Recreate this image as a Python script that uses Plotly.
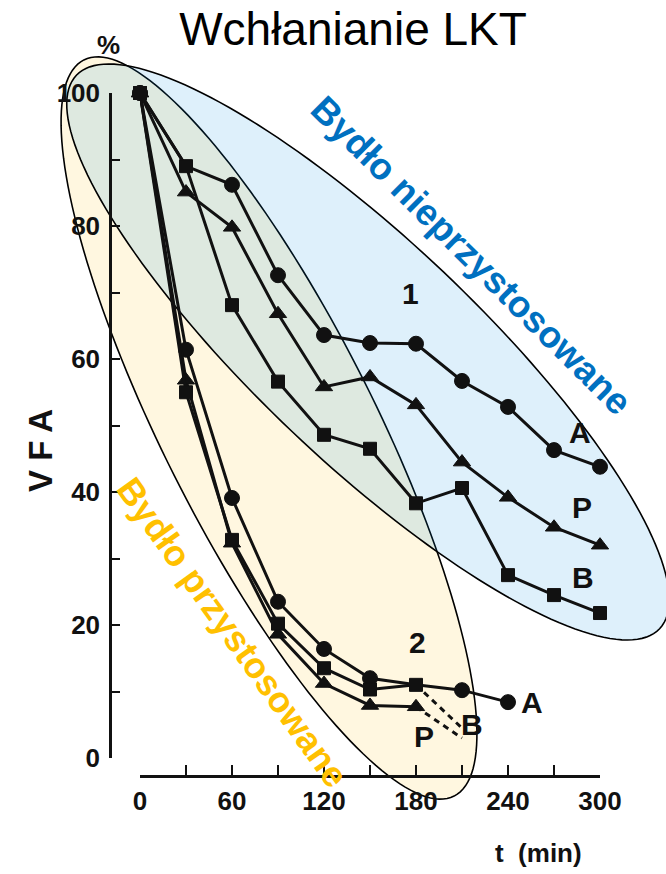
import numpy as np
import plotly.graph_objects as go

W, H = 666, 874

# ---------------- data ----------------
t1 = [0, 30, 60, 90, 120, 150, 180, 210, 240, 270, 300]
g1_A = [100, 89.0, 86.2, 72.6, 63.6, 62.4, 62.3, 56.7, 52.8, 46.3, 43.8]
g1_P = [100, 85.1, 79.8, 66.8, 55.8, 57.3, 53.1, 44.5, 39.2, 34.7, 32.0]
g1_B = [100, 89.0, 68.1, 56.6, 48.6, 46.5, 38.3, 40.6, 27.5, 24.5, 21.8]

t2_A = [0, 30, 60, 90, 120, 150, 180, 210, 240]
g2_A = [100, 61.4, 39.1, 23.5, 16.4, 12.0, 11.0, 10.2, 8.4]
t2 = [0, 30, 60, 90, 120, 150, 180]
g2_B = [100, 55.0, 32.8, 20.2, 13.5, 10.3, 11.0]
g2_P = [100, 56.8, 32.3, 18.6, 11.2, 7.9, 7.7]
t2_ext = [180, 210]
g2_B_ext = [11.0, 4.5]
g2_P_ext = [7.7, 3.0]

x_ticks = [0, 30, 60, 90, 120, 150, 180, 210, 240, 270, 300]
x_labels = ["0", "", "60", "", "120", "", "180", "", "240", "", "300"]
y_ticks = [0, 10, 20, 30, 40, 50, 60, 70, 80, 90, 100]
y_labels = ["0", "", "20", "", "40", "", "60", "", "80", "", "100"]

# ---------------- style ----------------
INK = "#111111"
SANS = "Liberation Sans, Arial, sans-serif"


def px(x):
    return x / W


def py(y):
    return 1 - y / H


def ellipse_path(cx, cy, a, b, ang_deg, n=180):
    th = np.linspace(0, 2 * np.pi, n, endpoint=False)
    phi = np.deg2rad(ang_deg)
    xs = cx + a * np.cos(th) * np.cos(phi) - b * np.sin(th) * np.sin(phi)
    ys = cy + a * np.cos(th) * np.sin(phi) + b * np.sin(th) * np.cos(phi)
    pts = [f"{px(x):.5f},{py(y):.5f}" for x, y in zip(xs, ys)]
    return "M " + " L ".join(pts) + " Z"


def sizes(n, base, hide=None):
    s = [base] * n
    if hide is not None:
        s[hide] = 0
    return s


fig = go.Figure()


def add_series(x, y, symbol, msize, hide=None, dash="solid"):
    fig.add_trace(go.Scatter(
        x=x, y=y, mode="lines+markers" if dash == "solid" else "lines",
        line=dict(color=INK, width=3, dash=dash),
        marker=dict(symbol=symbol, size=sizes(len(x), msize, hide), color=INK,
                    opacity=1, line=dict(width=1, color=INK)),
        cliponaxis=False, showlegend=False, hoverinfo="x+y"))


# group 2 (adapted)
add_series(t2_ext, g2_B_ext, "square", 0, dash="6px,5px")
add_series(t2_ext, g2_P_ext, "triangle-up", 0, dash="6px,5px")
add_series(t2_A, g2_A, "circle", 15, hide=6)
add_series(t2, g2_P, "triangle-up", 15)
add_series(t2, g2_B, "square", 13)
# group 1 (non-adapted)
add_series(t1, g1_A, "circle", 15, hide=1)
add_series(t1, g1_P, "triangle-up", 15)
add_series(t1, g1_B, "square", 13)

shapes = [
    dict(type="path", xref="paper", yref="paper", layer="below",
         path=ellipse_path(269, 428, 412, 106, 63.3),
         fillcolor="rgba(255,192,0,0.12)", line=dict(color="black", width=1.6)),
    dict(type="path", xref="paper", yref="paper", layer="below",
         path=ellipse_path(368, 352, 402, 110, 43.5),
         fillcolor="rgba(0,140,224,0.13)", line=dict(color="black", width=1.6)),
]

ann = []


def note(text, x, y, size, ref="x", color=INK, angle=0):
    if ref == "paper":
        xx, yy, xr, yr = px(x), py(y), "paper", "paper"
    else:
        xx, yy, xr, yr = x, y, "x", "y"
    ann.append(dict(text=f"<b>{text}</b>", x=xx, y=yy, xref=xr, yref=yr,
                    showarrow=False, textangle=angle,
                    font=dict(size=size, family=SANS, color=color),
                    xanchor="center", yanchor="middle"))


# curve labels (data coordinates)
note("1", 176.7, 69.9, 30)
note("A", 287, 48.9, 30)
note("P", 288.3, 37.7, 30)
note("B", 288.9, 27.2, 30)
note("2", 180.7, 17.4, 30)
note("P", 185.2, 3.2, 30)
note("B", 216.5, 5.0, 30)
note("A", 255.7, 8.3, 30)

# axis titles and group names (page coordinates)
note("%", 108, 45, 26, ref="paper")
note("t  (min)", 538, 853, 26, ref="paper")
note("V F A", 41, 451, 33, ref="paper", angle=-90)
note("Bydło nieprzystosowane", 471, 256, 37, ref="paper",
     color="#0070C0", angle=44.8)
note("Bydło przystosowane", 233, 632, 36, ref="paper",
     color="#FFC000", angle=54.5)

tickfont = dict(size=26, family=SANS, color=INK, weight="bold")

fig.update_layout(
    width=W, height=H,
    margin=dict(l=0, r=0, t=0, b=0, pad=0, autoexpand=False),
    paper_bgcolor="white", plot_bgcolor="rgba(0,0,0,0)",
    title=dict(text="Wchłanianie LKT", x=px(353), y=py(29), xanchor="center",
               yanchor="middle", automargin=False,
               font=dict(size=46, family=SANS, color="black")),
    shapes=shapes, annotations=ann,
    xaxis=dict(domain=[px(140), px(600)], range=[0, 300], anchor="free",
               position=py(776), showline=True, linecolor=INK, linewidth=2.5,
               ticks="inside", ticklen=10, tickwidth=2, tickcolor=INK,
               tickvals=x_ticks, ticktext=x_labels, showgrid=False, zeroline=False,
               automargin=False, tickfont=tickfont, ticklabelstandoff=1),
    yaxis=dict(domain=[py(758), py(93)], range=[0, 100], anchor="free",
               position=px(110), showline=True, linecolor=INK, linewidth=2.5,
               ticks="inside", ticklen=8, tickwidth=2, tickcolor=INK,
               tickvals=y_ticks, ticktext=y_labels, showgrid=False, zeroline=False,
               automargin=False, tickfont=tickfont, ticklabelstandoff=4),
)

fig.write_html("out.html")
